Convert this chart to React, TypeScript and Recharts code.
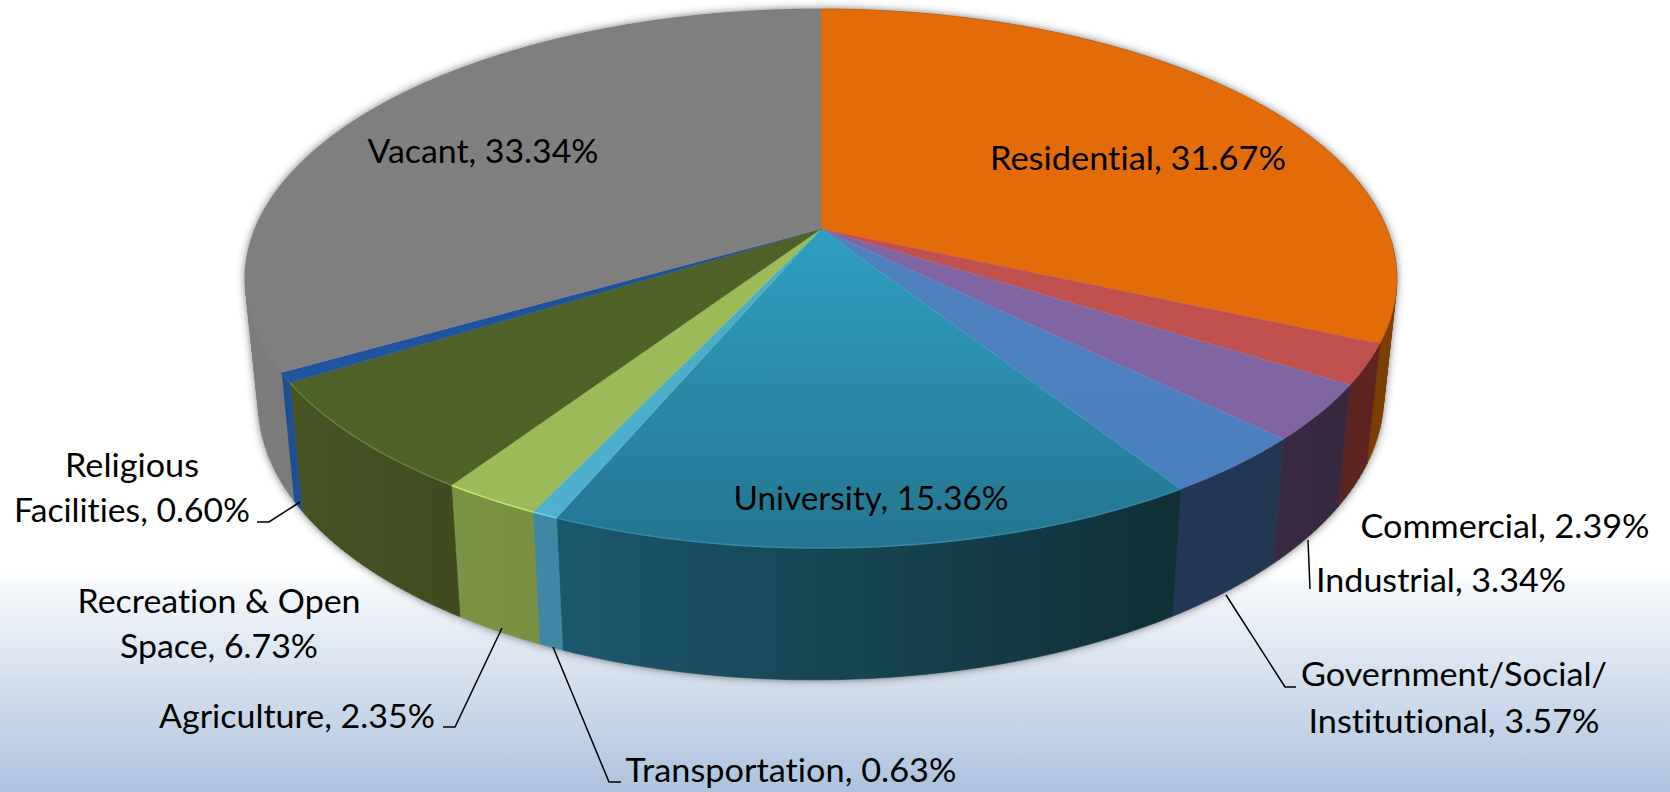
import React from 'react';
import { PieChart, Pie } from 'recharts';

const names = ['Residential', 'Commercial', 'Industrial', 'Government/Social/Institutional', 'University', 'Transportation', 'Agriculture', 'Recreation & Open Space', 'Religious Facilities', 'Vacant'];
const values = [31.67, 2.39, 3.34, 3.57, 15.36, 0.63, 2.35, 6.73, 0.6, 33.34];

// top-face colours [inner, outer]
const faceInner = ['#e36c09', '#c0504d', '#8064a2', '#4f81bd', '#2f9fc1', '#4bacc6', '#9bbb59', '#4f6228', '#1f4f96', '#7f7f7f'];
const faceOuter = ['#e36c09', '#c0504d', '#8064a2', '#4a7fbf', '#24758f', '#4fb0cf', '#9bbb59', '#4f6228', '#1f55a0', '#7f7f7f'];
// side-wall colours [left, right]
const wallLeft = ['#7b3f00', '#5c2420', '#3a2a45', '#23385a', '#1b586c', '#3f87a5', '#7b9346', '#465423', '#1e4f90', '#7c7c7c'];
const wallRight = ['#7b3f00', '#5f2620', '#372840', '#22374f', '#102f37', '#3f87a5', '#78903f', '#3f4b1f', '#1e4f90', '#747474'];
const rimColor = ['none', 'none', 'none', 'none', '#3a8aa6', '#80d8f0', '#d4ee7c', '#6f8a38', '#2a60aa', 'none'];

const table = names.map((name, idx) => ({ name, value: values[idx], idx, fill: faceInner[idx] }));

// label layout: text lines (centre x, baseline y, width) and leader polyline
const labelLayout = [
  { lines: [{ t: 'Residential, 31.67%', x: 1138, y: 170, w: 296 }], leader: '' },
  { lines: [{ t: 'Commercial, 2.39%', x: 1505, y: 538, w: 289 }], leader: '' },
  { lines: [{ t: 'Industrial, 3.34%', x: 1441, y: 592, w: 250 }], leader: '1308,540 1310,589' },
  { lines: [{ t: 'Government/Social/', x: 1454, y: 686, w: 306 }, { t: 'Institutional, 3.57%', x: 1454, y: 733, w: 291 }], leader: '1226,595 1285,687 1296,687' },
  { lines: [{ t: 'University, 15.36%', x: 871, y: 510, w: 275 }], leader: '' },
  { lines: [{ t: 'Transportation, 0.63%', x: 791, y: 782, w: 331 }], leader: '553,647 609,782 621,782' },
  { lines: [{ t: 'Agriculture, 2.35%', x: 297, y: 728, w: 276 }], leader: '502,628 455,727 443,727' },
  { lines: [{ t: 'Recreation & Open', x: 219, y: 613, w: 283 }, { t: 'Space, 6.73%', x: 219, y: 658, w: 198 }], leader: '' },
  { lines: [{ t: 'Religious', x: 132, y: 477, w: 134 }, { t: 'Facilities, 0.60%', x: 132, y: 522, w: 236 }], leader: '300,502 269,522 257,522' },
  { lines: [{ t: 'Vacant, 33.34%', x: 483, y: 163, w: 231 }], leader: '' },
];

const K = 0.184;
const B_RATIO = 0.46;

function topPoint(cx: number, cy: number, r: number, deg: number) {
  const a = (deg * Math.PI) / 180;
  const X = Math.cos(a);
  const Y = -Math.sin(a);
  const w = 1 - K * Y;
  return { x: cx + (r * X) / w, y: cy + (r * B_RATIO * Y) / w };
}
function bottomPoint(cx: number, cy: number, r: number, deg: number) {
  const p = topPoint(cx, cy, r, deg);
  return {
    x: cx + 0.977 * (p.x - cx),
    y: cy + 119 + 1.04 * (p.y - cy) - 0.006 * (p.x - cx),
  };
}
function sweep(start: number, end: number) {
  const n = Math.max(2, Math.ceil(Math.abs(end - start)));
  return Array.from({ length: n + 1 }, (_, i) => start + ((end - start) * i) / n);
}
const toD = (pts: { x: number; y: number }[]) => pts.map((p, i) => `${i ? 'L' : 'M'}${p.x.toFixed(2)} ${p.y.toFixed(2)}`).join(' ');

function wallPath(p: any) {
  const angles = sweep(p.startAngle, p.endAngle);
  const top = angles.map((a) => topPoint(p.cx, p.cy, p.outerRadius, a));
  const bot = angles.map((a) => bottomPoint(p.cx, p.cy, p.outerRadius, a));
  const quads: string[] = [];
  for (let i = 0; i + 1 < top.length; i++) {
    const q = [top[i], top[i + 1], bot[i + 1], bot[i]];
    const area = q.reduce((s, c, j) => {
      const n = q[(j + 1) % 4];
      return s + c.x * n.y - n.x * c.y;
    }, 0);
    quads.push(toD(area < 0 ? [...q].reverse() : q) + ' Z');
  }
  return { d: quads.join(' '), pts: [...top, ...bot] };
}

const ShadowShape = (p: any) => {
  const { d } = wallPath(p);
  return <path d={d} fill="#3a3a3a" fillOpacity={0.75} filter="url(#pieShadow)" />;
};

const WallShape = (p: any) => {
  const idx = p.payload?.idx ?? p.idx;
  const { d, pts } = wallPath(p);
  const xs = pts.map((q) => q.x);
  const id = `wall${idx}`;
  return (
    <g>
      <defs>
        <linearGradient id={id} gradientUnits="userSpaceOnUse" x1={Math.min(...xs)} x2={Math.max(...xs)} y1={0} y2={0}>
          <stop offset="0" stopColor={wallLeft[idx]} />
          <stop offset="1" stopColor={wallRight[idx]} />
        </linearGradient>
      </defs>
      <path d={d} fill={`url(#${id})`} stroke={`url(#${id})`} strokeWidth={0.6} />
    </g>
  );
};

const FaceShape = (p: any) => {
  const idx = p.payload?.idx ?? p.idx;
  const rim = sweep(p.startAngle, p.endAngle).map((a) => topPoint(p.cx, p.cy, p.outerRadius, a));
  const id = `face${idx}`;
  const color = rimColor[idx];
  return (
    <g>
      <defs>
        <linearGradient id={id} x1="0" x2="0" y1="0" y2="1">
          <stop offset="0" stopColor={faceInner[idx]} />
          <stop offset="1" stopColor={faceOuter[idx]} />
        </linearGradient>
      </defs>
      <path d={toD([{ x: p.cx, y: p.cy }, ...rim]) + ' Z'} fill={`url(#${id})`} stroke={faceInner[idx]} strokeWidth={0.4} />
      {color !== 'none' && <path d={toD(rim)} fill="none" stroke={color} strokeWidth={1.5} strokeOpacity={0.8} />}
    </g>
  );
};

const renderLabel = (p: any) => {
  const item = labelLayout[p.index];
  return (
    <g>
      {item.leader && <polyline points={item.leader} fill="none" stroke="#000" strokeWidth={1.5} />}
      {item.lines.map((l) => (
        <text key={l.t} x={l.x} y={l.y} textAnchor="middle" fontFamily="Lato, 'Open Sans', sans-serif" fontSize={33} fill="#000" textLength={l.w} lengthAdjust="spacingAndGlyphs" style={{ fontVariantLigatures: 'none' }}>
          {l.t}
        </text>
      ))}
    </g>
  );
};

const pieBase = {
  data: table,
  dataKey: 'value',
  nameKey: 'name',
  cx: 821,
  cy: 229,
  innerRadius: 0,
  outerRadius: 566,
  startAngle: 90,
  endAngle: -270,
  paddingAngle: 0,
  stroke: 'none',
  isAnimationActive: false,
};

export default function App() {
  return (
    <div style={{ position: 'absolute', left: 0, top: 0, width: 1670, height: 792, overflow: 'hidden', background: 'linear-gradient(to bottom, #ffffff 0, #ffffff 570px, #f4f7fb 590px, #adc2de 792px)' }}>
      <PieChart width={1670} height={792} margin={{ top: 0, right: 0, bottom: 0, left: 0 }}>
        <defs>
          <filter id="pieShadow" filterUnits="userSpaceOnUse" x="0" y="0" width="1670" height="792">
            <feGaussianBlur stdDeviation="4" />
          </filter>
        </defs>
        <Pie {...pieBase} shape={ShadowShape} label={false} labelLine={false} />
        <Pie {...pieBase} shape={WallShape} label={false} labelLine={false} />
        <Pie {...pieBase} shape={FaceShape} label={renderLabel} labelLine={false} />
      </PieChart>
    </div>
  );
}
